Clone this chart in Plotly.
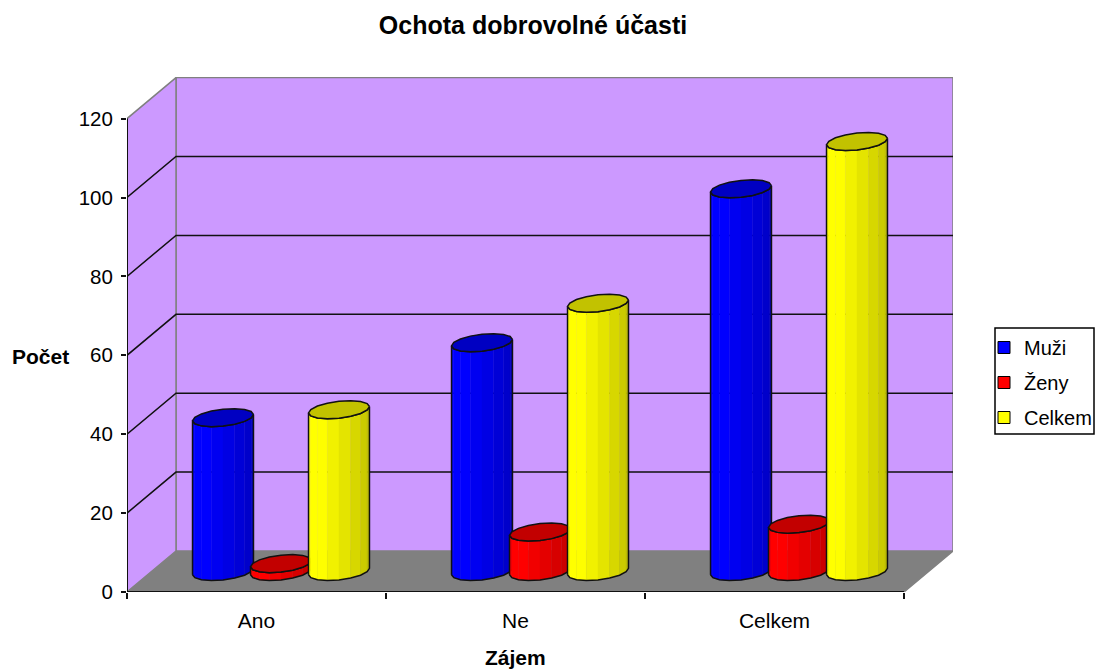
import math
import plotly.graph_objects as go

# ---- data ----
categories = ["Ano", "Ne", "Celkem"]
series_names = ["Muži", "Ženy", "Celkem"]
muzi = [39, 58, 97]
zeny = [2, 10, 12]
celkem = [41, 68, 109]
y_ticks = [0, 20, 40, 60, 80, 100, 120]

# ---- style / geometry ----
series_values = [muzi, zeny, celkem]
base_rgb = [(0, 0, 255), (255, 0, 0), (255, 255, 0)]
FONT = "Liberation Sans, Arial, sans-serif"
WALL = "#CC99FF"
FLOOR = "#808080"
EDGE = "#808080"
INK = "#111111"

CW, CH = 1095, 669
L, T, W, H = 127, 77, 826, 515
BOTTOM = T + H


def paper_x(px):
    return (px - L) / W


def paper_y(py):
    return (BOTTOM - py) / H


PX_CAT = 259.0            # pixels per category
PX_VAL = 3.945            # pixels per value unit
DX = 49 / PX_CAT          # depth vector in data units
DY = 41 / PX_VAL
SPACING = 58 / PX_CAT
RX = 28.5 / PX_CAT
RD = 0.22
N = 8                     # facets on the visible half
N_CAT = len(categories)
V_MAX = y_ticks[-1]


def depth(x, v, d):
    return x + d * DX, v + d * DY


def rgb(c, k):
    return "rgb(%d,%d,%d)" % tuple(round(a * k) for a in c)


def circle_pt(cx, v, th):
    d = 0.5 + RD * math.sin(th)
    return depth(cx + RX * math.cos(th), v, d)


fig = go.Figure()


def poly(xs, ys, fill=None, line=None, width=0, close=True):
    if close:
        xs = list(xs) + [xs[0]]
        ys = list(ys) + [ys[0]]
    fig.add_trace(go.Scatter(
        x=xs, y=ys, mode="lines",
        fill="toself" if fill else None, fillcolor=fill,
        line=dict(color=line or "rgba(0,0,0,0)", width=width),
        hoverinfo="skip", showlegend=False, cliponaxis=False))


# walls & floor
c = [depth(0, 0, 0), depth(N_CAT, 0, 0), depth(N_CAT, 0, 1), depth(0, 0, 1)]
poly([p[0] for p in c], [p[1] for p in c], fill=FLOOR, line=EDGE, width=1.5)
c = [depth(0, 0, 1), depth(N_CAT, 0, 1), depth(N_CAT, V_MAX, 1), depth(0, V_MAX, 1)]
poly([p[0] for p in c], [p[1] for p in c], fill=WALL, line=EDGE, width=1.5)
c = [depth(0, 0, 0), depth(0, 0, 1), depth(0, V_MAX, 1), depth(0, V_MAX, 0)]
poly([p[0] for p in c], [p[1] for p in c], fill=WALL, line=EDGE, width=1.5)

# gridlines (side wall + back wall)
for t in y_ticks[1:-1]:
    pts = [depth(0, t, 0), depth(0, t, 1), depth(N_CAT, t, 1)]
    poly([p[0] for p in pts], [p[1] for p in pts], line=INK, width=1.5, close=False)

# axis lines
poly([0, 0], [0, V_MAX], line=INK, width=2, close=False)
poly([0, N_CAT], [0, 0], line=INK, width=2, close=False)

# cylinders
th_r = math.atan2(RD * DX * PX_CAT, RX * PX_CAT)
th_start = th_r + math.pi
front = [th_start + math.pi * i / N for i in range(N + 1)]
ring = [th_r + math.pi * i / N for i in range(2 * N)]


def shade(t):
    return 1.0 if t < 0.3 else 1.0 - 0.28 * (t - 0.3) / 0.7


for i in range(N_CAT):
    for j, vals in enumerate(series_values):
        cx = i + 0.5 + (j - 1) * SPACING
        v = vals[i]
        col = base_rgb[j]
        for k in range(N):
            a, b = front[k], front[k + 1]
            p = [circle_pt(cx, 0, a), circle_pt(cx, 0, b), circle_pt(cx, v, b), circle_pt(cx, v, a)]
            s = rgb(col, shade((k + 0.5) / N))
            poly([q[0] for q in p], [q[1] for q in p], fill=s, line=s, width=0.4)
        bottom = [circle_pt(cx, 0, a) for a in front]
        top = [circle_pt(cx, v, a) for a in reversed(front)]
        out = bottom + top
        poly([q[0] for q in out], [q[1] for q in out], line=INK, width=1.5)
        cap = [circle_pt(cx, v, a) for a in ring]
        poly([q[0] for q in cap], [q[1] for q in cap], fill=rgb(col, 0.76), line=INK, width=1.5)

# legend keys
for name, col in zip(series_names, base_rgb):
    fig.add_trace(go.Scatter(
        x=[None], y=[None], mode="markers", name=name, legendgroup=name,
        marker=dict(symbol="square", size=12, color=rgb(col, 1), line=dict(color="black", width=1))))

fig.update_layout(
    width=CW, height=CH,
    autosize=False,
    paper_bgcolor="white", plot_bgcolor="white",
    margin=dict(l=L, t=T, r=CW - L - W, b=CH - T - H, autoexpand=False, pad=0),
    font=dict(family=FONT, size=21, color="black"),
    title=dict(text="<b>Ochota dobrovolné účasti</b>", x=533 / CW, xanchor="center",
               y=1 - 25 / CH, yanchor="middle", xref="container", yref="container",
               font=dict(family=FONT, size=25, color="black")),
    xaxis=dict(range=[0, W / PX_CAT], showgrid=False, zeroline=False, showline=False,
               tickmode="array", tickvals=[i + 0.5 for i in range(N_CAT)], ticktext=categories,
               ticks="", ticklabelstandoff=14, tickfont=dict(size=21),
               minor=dict(tickmode="array", tickvals=list(range(N_CAT + 1)), ticks="outside",
                          ticklen=6, tickwidth=1.5, tickcolor=INK, showgrid=False)),
    yaxis=dict(range=[0, H / PX_VAL], showgrid=False, zeroline=False, showline=False,
               tickmode="array", tickvals=y_ticks, ticks="outside", ticklen=5, tickwidth=1.5,
               tickcolor=INK, tickfont=dict(size=20.5), ticklabelstandoff=4),
    showlegend=True,
    legend=dict(x=paper_x(984), xanchor="left", y=paper_y(328), yanchor="top",
                font=dict(family=FONT, size=20), bgcolor="rgba(0,0,0,0)", borderwidth=0,
                traceorder="grouped", tracegroupgap=6),
    shapes=[dict(type="rect", xref="paper", yref="paper",
                 x0=paper_x(995), x1=paper_x(1094),
                 y0=paper_y(434), y1=paper_y(328),
                 line=dict(color="black", width=1.5), fillcolor="rgba(0,0,0,0)")],
    annotations=[
        dict(text="<b>Počet</b>", xref="paper", yref="paper", x=paper_x(40), y=paper_y(356),
             showarrow=False, font=dict(family=FONT, size=21), xanchor="center", yanchor="middle"),
        dict(text="<b>Zájem</b>", xref="paper", yref="paper", x=paper_x(515), y=paper_y(657),
             showarrow=False, font=dict(family=FONT, size=21), xanchor="center", yanchor="middle"),
    ],
    hovermode=False,
)

fig.write_html("out.html", config={"displayModeBar": False},
               post_script="document.body.style.margin='0';")
